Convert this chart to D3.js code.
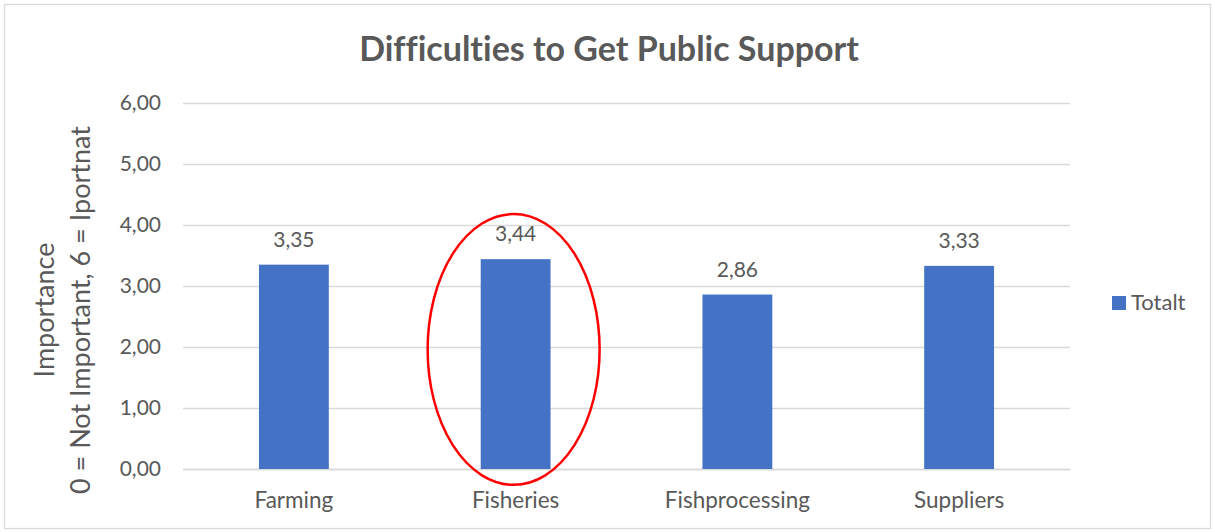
<!DOCTYPE html>
<html>
<head>
<meta charset="utf-8">
<script src="https://cdn.jsdelivr.net/npm/d3@7"></script>
<style>
  html, body { margin: 0; padding: 0; background: #fff; }
  svg { display: block; }
  text { font-family: Lato, "Open Sans", sans-serif; fill: #595959; font-variant-ligatures: none; }
</style>
</head>
<body>
<svg id="chart" width="1215" height="532"></svg>
<script>
// Chart data
const categories = ["Farming", "Fisheries", "Fishprocessing", "Suppliers"];
const totalt = [3.35, 3.44, 2.86, 3.33];
const yTicks = [0, 1, 2, 3, 4, 5, 6];
const seriesName = "Totalt";
const highlighted = "Fisheries";

const svg = d3.select("#chart");
const fmt = v => d3.format(".2f")(v).replace(".", ",");

// chart frame
svg.append("rect")
  .attr("x", 4.5).attr("y", 4.5)
  .attr("width", 1206).attr("height", 524)
  .attr("fill", "#fff").attr("stroke", "#d9d9d9").attr("stroke-width", 1.3);

const plot = { left: 183, right: 1070, top: 103, bottom: 469 };

const x = d3.scaleBand()
  .domain(categories)
  .range([plot.left, plot.right])
  .paddingInner(0.685)
  .paddingOuter(0.3425);

const y = d3.scaleLinear()
  .domain([0, 6])
  .range([plot.bottom, plot.top]);

// title
svg.append("text")
  .attr("x", 609).attr("y", 61)
  .attr("text-anchor", "middle")
  .style("font-size", "34px").style("font-weight", "bold")
  .text("Difficulties to Get Public Support");

// gridlines + y tick labels
const yAxis = d3.axisLeft(y)
  .tickValues(yTicks)
  .tickSize(-(plot.right - plot.left))
  .tickPadding(22)
  .tickFormat(fmt);

const gy = svg.append("g")
  .attr("transform", `translate(${plot.left},0)`)
  .call(yAxis);
gy.select(".domain").remove();
gy.selectAll(".tick line").attr("stroke", "#d9d9d9").attr("stroke-width", 1.5);
gy.selectAll(".tick text")
  .attr("fill", "#595959")
  .style("font-family", "Lato, sans-serif")
  .style("font-size", "21px");

// x axis
const xAxis = d3.axisBottom(x).tickSize(0).tickPadding(23);
const gx = svg.append("g")
  .attr("transform", `translate(0,${plot.bottom})`)
  .call(xAxis);
gx.select(".domain").attr("stroke", "#d9d9d9").attr("stroke-width", 1.5);
gx.selectAll(".tick text")
  .attr("fill", "#595959")
  .style("font-family", "Lato, sans-serif")
  .style("font-size", "22.5px");

// bars
svg.append("g").selectAll("rect")
  .data(categories)
  .join("rect")
  .attr("x", d => x(d))
  .attr("y", (d, i) => y(totalt[i]))
  .attr("width", x.bandwidth())
  .attr("height", (d, i) => y(0) - y(totalt[i]))
  .attr("fill", "#4472c4");

// value labels
svg.append("g").selectAll("text")
  .data(categories)
  .join("text")
  .attr("x", d => x(d) + x.bandwidth() / 2)
  .attr("y", (d, i) => y(totalt[i]) - 18)
  .attr("text-anchor", "middle")
  .style("font-size", "21px")
  .text((d, i) => fmt(totalt[i]));

// highlight ellipse around one category
const hi = categories.indexOf(highlighted);
const eTop = y(totalt[hi] + 0.74), eBottom = y(-0.26);
svg.append("ellipse")
  .attr("cx", x(highlighted) + x.bandwidth() / 2 - 2)
  .attr("cy", (eTop + eBottom) / 2)
  .attr("rx", 86)
  .attr("ry", (eBottom - eTop) / 2)
  .attr("fill", "none")
  .attr("stroke", "#ff0000")
  .attr("stroke-width", 2.5);

// y axis title
const yt = svg.append("text")
  .attr("transform", "translate(0,310) rotate(-90)")
  .attr("text-anchor", "middle")
  .style("font-size", "27px");
yt.append("tspan").attr("x", 0).attr("y", 54).text("Importance");
yt.append("tspan").attr("x", 0).attr("y", 90).text("0 = Not Important, 6 = Iportnat");

// legend
const lg = svg.append("g").attr("transform", "translate(1112,296)");
lg.append("rect").attr("width", 14).attr("height", 14).attr("fill", "#4472c4");
lg.append("text").attr("x", 19).attr("y", 13.5).style("font-size", "22px").text(seriesName);
</script>
</body>
</html>
